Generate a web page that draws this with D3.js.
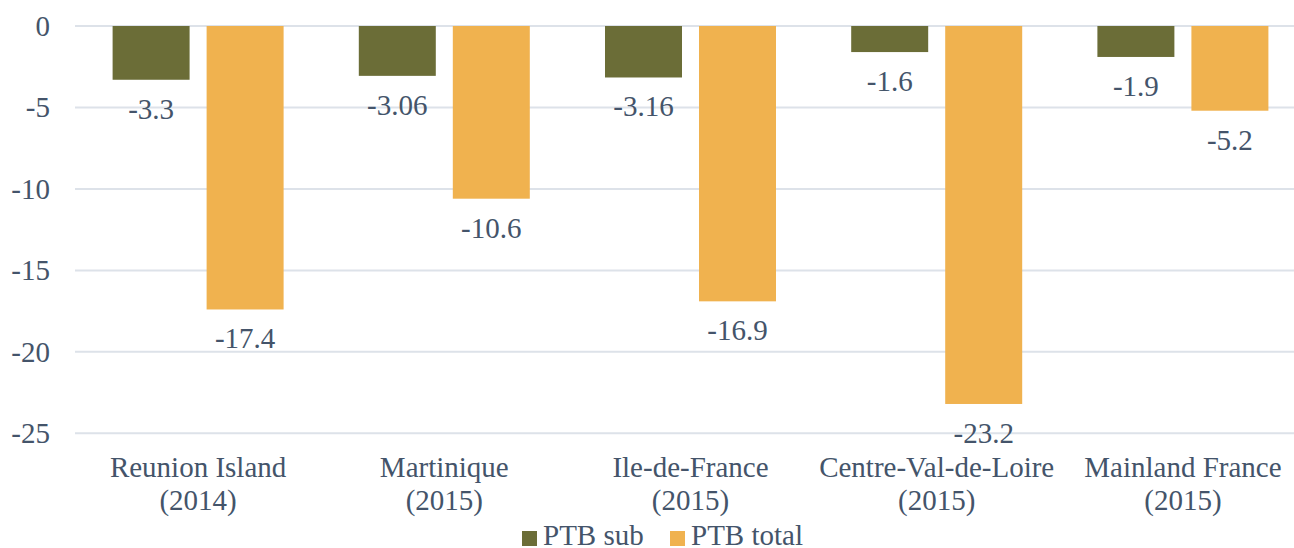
<!DOCTYPE html>
<html>
<head>
<meta charset="utf-8">
<script src="https://cdn.jsdelivr.net/npm/d3@7"></script>
</head>
<body style="margin:0">
<svg id="chart" width="1294" height="548"></svg>
<script>
// categories (two-line labels) and series values
const regions = ["Reunion Island", "Martinique", "Ile-de-France", "Centre-Val-de-Loire", "Mainland France"];
const years = ["(2014)", "(2015)", "(2015)", "(2015)", "(2015)"];
const seriesNames = ["PTB sub", "PTB total"];
const ptbSub = [-3.3, -3.06, -3.16, -1.6, -1.9];
const ptbTotal = [-17.4, -10.6, -16.9, -23.2, -5.2];
const subLabels = ["-3.3", "-3.06", "-3.16", "-1.6", "-1.9"];
const totalLabels = ["-17.4", "-10.6", "-16.9", "-23.2", "-5.2"];
const yTicks = [0, -5, -10, -15, -20, -25];
const colors = ["#6b6d37", "#f0b24f"];

var textColor = "#44546a";

var svg = d3.select("#chart");
var margin = {top: 26, left: 75};
var plotWidth = 1231;
var yBottom = 433.3;

var data = regions.map(function(r, i) {
  return {
    region: r, year: years[i],
    values: [
      {key: seriesNames[0], value: ptbSub[i], label: subLabels[i]},
      {key: seriesNames[1], value: ptbTotal[i], label: totalLabels[i]}
    ]
  };
});

var x0 = d3.scaleBand()
  .domain(regions)
  .range([margin.left, margin.left + plotWidth])
  .paddingInner(0).paddingOuter(0);

var groupW = 171;
var x1 = d3.scaleBand()
  .domain(seriesNames)
  .range([(x0.bandwidth() - groupW) / 2, (x0.bandwidth() + groupW) / 2])
  .paddingInner(0.181).paddingOuter(0);

var y = d3.scaleLinear()
  .domain([-25, 0])
  .range([yBottom, margin.top]);

var color = d3.scaleOrdinal().domain(seriesNames).range(colors);

function styleText(sel) {
  sel.attr("font-family", "'Liberation Serif'")
    .style("font-family", "'Liberation Serif', Tinos, 'Times New Roman', serif")
    .attr("font-size", 29)
    .attr("fill", textColor);
}

// gridlines + y labels
var yAxis = svg.append("g").attr("class", "y-axis");
yAxis.selectAll("line")
  .data(yTicks)
  .enter().append("line")
  .attr("x1", margin.left)
  .attr("x2", 1294)
  .attr("y1", d => y(d))
  .attr("y2", d => y(d))
  .attr("stroke", "#dde2e9")
  .attr("stroke-width", 2);

yAxis.selectAll("text")
  .data(yTicks)
  .enter().append("text")
  .attr("x", 50)
  .attr("y", d => y(d) + 10)
  .attr("text-anchor", "end")
  .call(styleText)
  .text(d => String(d));

// bars
var groups = svg.append("g").attr("class", "bars")
  .selectAll("g")
  .data(data)
  .enter().append("g")
  .attr("transform", d => "translate(" + x0(d.region) + ",0)");

groups.selectAll("rect")
  .data(d => d.values)
  .enter().append("rect")
  .attr("x", d => x1(d.key))
  .attr("y", d => y(0))
  .attr("width", x1.bandwidth())
  .attr("height", d => y(d.value) - y(0))
  .attr("fill", d => color(d.key));

groups.selectAll("text")
  .data(d => d.values)
  .enter().append("text")
  .attr("x", d => x1(d.key) + x1.bandwidth() / 2)
  .attr("y", d => y(d.value) + 39)
  .attr("text-anchor", "middle")
  .call(styleText)
  .text(d => d.label);

// category labels
var xAxis = svg.append("g").attr("class", "x-axis");
var cat = xAxis.selectAll("text")
  .data(data)
  .enter().append("text")
  .attr("text-anchor", "middle")
  .call(styleText);
cat.append("tspan")
  .attr("x", d => x0(d.region) + x0.bandwidth() / 2)
  .attr("y", 477)
  .text(d => d.region);
cat.append("tspan")
  .attr("x", d => x0(d.region) + x0.bandwidth() / 2)
  .attr("y", 510)
  .text(d => d.year);

// legend
var legendX = [522, 670];
var legend = svg.append("g").attr("class", "legend")
  .selectAll("g")
  .data(seriesNames)
  .enter().append("g")
  .attr("transform", (d, i) => "translate(" + legendX[i] + ",0)");
legend.append("rect")
  .attr("x", 0).attr("y", 531)
  .attr("width", 15).attr("height", 15)
  .attr("fill", d => color(d));
legend.append("text")
  .attr("x", 21).attr("y", 545)
  .call(styleText)
  .text(d => d);
</script>
</body>
</html>
